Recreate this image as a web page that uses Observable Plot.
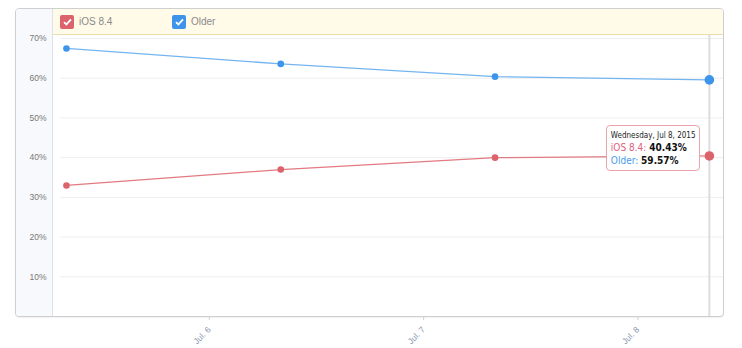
<!DOCTYPE html>
<html>
<head>
<meta charset="utf-8">
<script src="https://cdn.jsdelivr.net/npm/d3@7"></script>
<script src="https://cdn.jsdelivr.net/npm/@observablehq/plot@0.6"></script>
<style>
  html, body { margin: 0; padding: 0; background: #fff; }
  #wrap { position: relative; width: 742px; height: 348px; overflow: hidden; font-family: "Liberation Sans", Arial, sans-serif; }
  .abs { position: absolute; box-sizing: border-box; }
  #box { left: 15px; top: 8px; width: 709px; height: 309px; border: 1px solid #cfcfcf; border-radius: 4px; background: #fff; box-shadow: 0 1px 1px rgba(0,0,0,0.06); }
  #side { left: 16px; top: 9px; width: 37px; height: 307px; background: #f7f9fc; border-right: 1px solid #dbe2ea; border-radius: 3px 0 0 3px; }
  #band { left: 53px; top: 9px; width: 670px; height: 26px; background: #fffbe8; border-bottom: 1px solid #eadfad; border-radius: 0 3px 0 0; }
  .leg { display: flex; align-items: center; font-size: 10px; color: #8a8a8a; top: 14px; height: 15px; }
  .cb { width: 14px; height: 14px; border-radius: 2px; margin-right: 5px; display: flex; align-items: center; justify-content: center; }
  #plot { left: 0; top: 0; }
  .tipbox { background: #fff; border: 1px solid #e8a3ab !important; border-radius: 4px; padding: 3px 3px 3px 4px; font-family: "DejaVu Sans Condensed", "DejaVu Sans", sans-serif; white-space: nowrap; }
  .tipbox .d { font-size: 8px; color: #222; line-height: 13px; }
  .tipbox .r { font-size: 10px; line-height: 12.5px; }
  .tipbox b { color: #111; }
</style>
</head>
<body>
<div id="wrap">
  <div id="box" class="abs"></div>
  <div id="side" class="abs"></div>
  <div id="band" class="abs"></div>
  <div id="legend"></div>
  <div id="plot" class="abs"></div>
</div>
<script>
// ---- data ----
const seriesNames = ["iOS 8.4", "Older"];
const seriesColors = ["#dc626b", "#3d94ea"];
const lineColors = ["#e27a81", "#74b5f0"];
const dates = ["2015-07-05T08:00Z", "2015-07-06T08:00Z", "2015-07-07T08:00Z", "2015-07-08T08:00Z"];
const iosValues = [33.0, 37.0, 40.0, 40.43];
const olderValues = [67.5, 63.6, 60.4, 59.57];
const yTicks = [10, 20, 30, 40, 50, 60, 70];
const xTicks = ["2015-07-06T00:00Z", "2015-07-07T00:00Z", "2015-07-08T00:00Z"];
const xDomain = ["2015-07-05T06:33Z", "2015-07-08T09:35Z"];
const hoverIndex = 3;

const rows = [];
dates.forEach((d, i) => {
  rows.push({date: new Date(d), series: seriesNames[0], value: iosValues[i], i});
  rows.push({date: new Date(d), series: seriesNames[1], value: olderValues[i], i});
});
const colorOf = s => seriesColors[seriesNames.indexOf(s)];
const lineOf = s => lineColors[seriesNames.indexOf(s)];

const plot = Plot.plot({
  width: 742,
  height: 348,
  marginLeft: 53,
  marginRight: 19,
  marginTop: 34,
  marginBottom: 32,
  style: {background: "transparent", fontFamily: "Liberation Sans, Arial, sans-serif"},
  x: {type: "utc", domain: xDomain.map(d => new Date(d)), label: null},
  y: {domain: [0, 70], range: [316, 38], label: null},
  marks: [
    Plot.ruleY(yTicks, {stroke: "#eeeeee", strokeWidth: 1, insetLeft: 7}),
    Plot.ruleX([new Date(dates[hoverIndex])], {stroke: "#dddddd", strokeWidth: 2, y1: 0, y2: 70.9}),
    Plot.axisY({ticks: yTicks, tickFormat: d => d + "%", tickSize: 0, tickPadding: 7, fontSize: 8.5, color: "#777", anchor: "left", label: null}),
    Plot.axisX({ticks: xTicks.map(d => new Date(d)), tickFormat: d3.utcFormat("Jul. %-d"), tickRotate: -45, tickSize: 4, fontSize: 8.5, color: "#8896ad", stroke: "#c9d3e0", label: null}),
    ...seriesNames.map(s => Plot.line(rows.filter(r => r.series === s), {x: "date", y: "value", stroke: lineOf(s), strokeWidth: 1.3})),
    Plot.dot(rows.filter(r => r.i !== hoverIndex), {x: "date", y: "value", r: 3.3, fill: r => colorOf(r.series), stroke: "none"}),
    Plot.dot(rows.filter(r => r.i === hoverIndex), {x: "date", y: "value", r: 4.8, fill: r => colorOf(r.series), stroke: "none"})
  ]
});
document.getElementById("plot").appendChild(plot);

// legend
const legend = document.getElementById("legend");
const legendX = [60, 172];
seriesNames.forEach((s, k) => {
  const el = document.createElement("div");
  el.className = "abs leg";
  el.style.left = legendX[k] + "px";
  el.innerHTML = `<div class="cb" style="background:${seriesColors[k]}"><svg width="9" height="8" viewBox="0 0 9 8"><path d="M1 4.2 L3.4 6.4 L8 1.4" fill="none" stroke="#fff" stroke-width="1.8"/></svg></div><span>${s}</span>`;
  legend.appendChild(el);
});

// tooltip positioned via scales
const sx = plot.scale("x"), sy = plot.scale("y");
const hx = sx.apply(new Date(dates[hoverIndex]));
const hy = sy.apply(iosValues[hoverIndex]);
const tip = document.createElement("div");
tip.className = "abs tipbox";
tip.innerHTML = `<div class="d">${d3.utcFormat("%A, %b %-d, %Y")(new Date(dates[hoverIndex]))}</div>` +
  `<div class="r"><span style="color:#e0607c">${seriesNames[0]}: </span><b>${iosValues[hoverIndex].toFixed(2)}%</b></div>` +
  `<div class="r"><span style="color:#4a9bec">${seriesNames[1]}: </span><b>${olderValues[hoverIndex].toFixed(2)}%</b></div>`;
document.getElementById("wrap").appendChild(tip);
const tw = tip.offsetWidth, th = tip.offsetHeight;
tip.style.left = (hx - 9 - tw) + "px";
tip.style.top = (hy - 30) + "px";
// connector
const conn = document.createElement("div");
conn.className = "abs";
conn.style.cssText = `left:${hx - 9}px;top:${hy}px;width:5px;height:0;border-top:1px dashed #e8a3ab;`;
document.getElementById("wrap").appendChild(conn);
</script>
</body>
</html>
